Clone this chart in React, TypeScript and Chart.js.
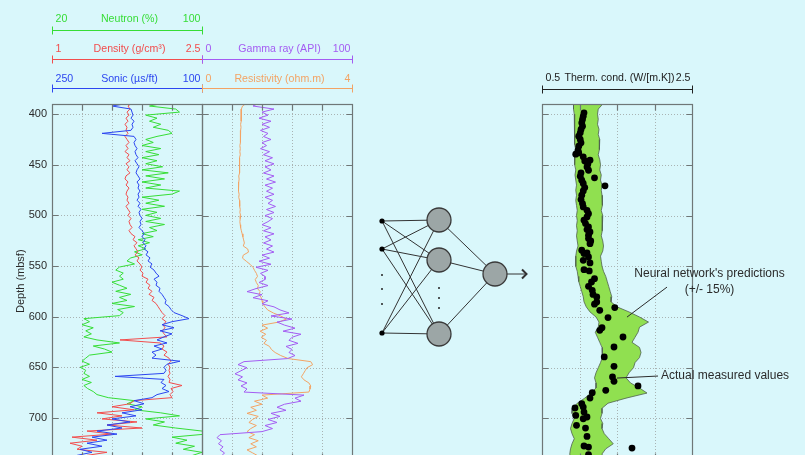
import React, { useEffect, useRef } from 'react';
import { Chart, registerables } from 'chart.js';

Chart.register(...registerables);

// ---------- wireline logs (sampled every 3 m, metres below sea floor) ----------
const LOG_DEPTH = [
  389, 392, 395, 398, 401, 404, 407, 410, 413, 416,
  419, 422, 425, 428, 431, 434, 437, 440, 443, 446,
  449, 452, 455, 458, 461, 464, 467, 470, 473, 476,
  479, 482, 485, 488, 491, 494, 497, 500, 503, 506,
  509, 512, 515, 518, 521, 524, 527, 530, 533, 536,
  539, 542, 545, 548, 551, 554, 557, 560, 563, 566,
  569, 572, 575, 578, 581, 584, 587, 590, 593, 596,
  599, 602, 605, 608, 611, 614, 617, 620, 623, 626,
  629, 632, 635, 638, 641, 644, 647, 650, 653, 656,
  659, 662, 665, 668, 671, 674, 677, 680, 683, 686,
  689, 692, 695, 698, 701, 704, 707, 710, 713, 716,
  719, 722, 725, 728, 731, 734, 737, 740,
];

// neutron porosity (%)
const NEUTRON = [
  80, 72, 86, 88, 70, 76, 72, 78, 74, 82,
  84, 76, 70, 74, 68, 78, 70, 77, 68, 76,
  70, 79, 68, 82, 70, 80, 68, 78, 70, 88,
  84, 68, 77, 70, 80, 68, 76, 70, 78, 70,
  80, 72, 76, 68, 74, 66, 72, 66, 70, 64,
  68, 62, 60, 64, 56, 54, 58, 56, 58, 52,
  56, 60, 54, 62, 56, 60, 52, 64, 55, 58,
  56, 37, 40, 36, 42, 38, 41, 37, 44, 56,
  42, 48, 52, 40, 38, 36, 40, 35, 38, 37,
  40, 36, 41, 37, 39, 42, 44, 50, 64, 60,
  68, 64, 78, 88, 70, 80, 74, 86, 100, 102,
  84, 92, 86, 96, 90, 100, 95, 92,
];

// bulk density (g/cm3)
const DENSITY = [
  1.80, 1.76, 1.78, 1.75, 1.77, 1.74, 1.76, 1.73, 1.75, 1.74,
  1.76, 1.73, 1.75, 1.77, 1.74, 1.76, 1.73, 1.77, 1.75, 1.78,
  1.74, 1.77, 1.75, 1.78, 1.74, 1.73, 1.76, 1.74, 1.77, 1.75,
  1.74, 1.76, 1.75, 1.77, 1.74, 1.76, 1.78, 1.76, 1.79, 1.77,
  1.78, 1.80, 1.77, 1.79, 1.83, 1.81, 1.85, 1.82, 1.84, 1.86,
  1.83, 1.87, 1.85, 1.88, 1.90, 1.88, 1.91, 1.90, 1.96, 1.94,
  1.98, 1.96, 2.00, 1.97, 2.02, 2.00, 2.04, 2.06, 2.08, 2.10,
  2.13, 2.10, 2.14, 2.11, 2.13, 2.10, 2.12, 2.15, 1.68, 2.08,
  2.12, 2.10, 2.15, 2.12, 2.17, 2.19, 2.16, 2.18, 2.17, 2.18,
  2.16, 2.18, 2.17, 2.30, 2.19, 2.21, 2.18, 2.20, 1.82, 1.78,
  1.60, 1.82, 1.45, 1.70, 1.50, 1.85, 1.55, 1.90, 1.35, 1.60,
  1.20, 1.45, 1.18, 1.30, 1.25, 1.55, 1.35, 1.50,
];

// sonic slowness (us/ft)
const SONIC = [
  172, 190, 171, 170, 169, 171, 168, 170, 169, 171,
  200, 168, 166, 168, 167, 165, 167, 166, 164, 167,
  165, 163, 165, 166, 164, 162, 165, 163, 164, 162,
  164, 163, 165, 162, 164, 161, 163, 162, 160, 162,
  161, 163, 160, 158, 160, 157, 159, 156, 158, 154,
  156, 152, 154, 150, 152, 148, 146, 143, 148, 145,
  146, 142, 143, 140, 138, 136, 137, 133, 131, 128,
  120, 113, 130, 140, 128, 142, 130, 138, 145, 135,
  148, 140, 150, 146, 150, 122, 135, 138, 136, 138,
  187, 138, 141, 136, 140, 133, 145, 150, 168, 158,
  172, 160, 180, 166, 190, 172, 195, 180, 205, 185,
  210, 195, 215, 200, 222, 210, 225, 218,
];

// natural gamma ray (API)
const GAMMA = [
  38, 34, 48, 40, 44, 38, 46, 40, 45, 39,
  44, 41, 46, 40, 43, 39, 45, 41, 47, 42,
  48, 42, 46, 41, 48, 43, 49, 42, 47, 43,
  48, 42, 47, 44, 49, 43, 48, 42, 47, 44,
  40, 46, 41, 48, 42, 46, 41, 47, 43, 48,
  40, 45, 38, 46, 36, 44, 39, 42, 42, 38,
  44, 36, 30, 40, 34, 44, 40, 48, 52, 58,
  46, 60, 50, 55, 62, 54, 66, 60, 58, 64,
  56, 60, 58, 62, 57, 28, 24, 30, 26, 22,
  27, 24, 30, 26, 30, 28, 68, 62, 66, 55,
  50, 56, 46, 52, 44, 50, 42, 47, 40, 12,
  10, 13, 11, 14, 12, 15, 13, 16,
];

// resistivity (ohm.m)
const RESISTIVITY = [
  1.20, 1.08, 1.05, 1.04, 1.05, 1.04, 1.05, 1.03, 1.04, 1.03,
  1.02, 1.03, 1.02, 1.03, 1.01, 1.02, 1.01, 1.02, 1.00, 1.01,
  1.00, 1.01, 0.99, 1.00, 0.98, 0.99, 0.98, 0.97, 0.98, 0.97,
  0.99, 0.98, 1.00, 1.01, 1.00, 1.02, 1.01, 1.03, 1.02, 1.01,
  1.02, 1.03, 1.05, 1.07, 1.09, 1.11, 1.13, 1.10, 1.22, 1.24,
  1.10, 1.08, 1.18, 1.28, 1.36, 1.40, 1.45, 1.48, 1.42, 1.45,
  1.50, 1.48, 1.55, 1.52, 1.58, 1.60, 1.62, 1.68, 1.75, 1.90,
  2.10, 2.25, 2.05, 1.60, 1.75, 1.55, 1.70, 1.58, 1.72, 1.65,
  1.80, 1.85, 1.95, 2.10, 2.30, 2.90, 2.95, 2.80, 2.75, 2.70,
  2.65, 2.72, 2.85, 2.90, 2.88, 2.85, 1.60, 1.75, 1.40, 1.60,
  1.30, 1.45, 1.20, 1.50, 1.35, 1.25, 1.45, 1.30, 1.20, 1.40,
  1.25, 1.50, 1.30, 1.45, 1.20, 1.35, 1.50, 1.40,
];

// ---------- thermal conductivity (W/[m.K]) ----------
// predicted envelope, every 5 m
const BAND_DEPTH = [
  390, 395, 400, 405, 410, 415, 420, 425, 430, 435,
  440, 445, 450, 455, 460, 465, 470, 475, 480, 485,
  490, 495, 500, 505, 510, 515, 520, 525, 530, 535,
  540, 545, 550, 555, 560, 565, 570, 575, 580, 585,
  590, 595, 600, 605, 610, 615, 620, 625, 630, 635,
  640, 645, 650, 655, 660, 665, 670, 675, 680, 685,
  690, 695, 700, 705, 710, 715, 720, 725, 730, 735,
  740,
];
const BAND_LOW = [
  0.92, 0.92, 0.93, 0.93, 0.94, 0.93, 0.94, 0.93, 0.94, 0.95,
  0.94, 0.93, 0.94, 0.95, 0.94, 0.95, 0.96, 0.95, 0.96, 0.95,
  0.96, 0.97, 0.96, 0.97, 0.96, 0.97, 0.96, 0.97, 0.98, 0.96,
  0.95, 0.95, 0.95, 0.97, 0.98, 0.99, 1.01, 1.03, 1.05, 1.06,
  1.09, 1.14, 1.22, 1.26, 1.25, 1.21, 1.24, 1.27, 1.30, 1.31,
  1.30, 1.28, 1.25, 1.22, 1.20, 1.22, 1.22, 1.15, 1.07, 0.97,
  0.91, 0.90, 0.93, 0.90, 0.88, 0.90, 0.93, 0.90, 0.88, 0.87,
  0.88,
];
const BAND_HIGH = [
  1.31, 1.25, 1.24, 1.25, 1.24, 1.26, 1.25, 1.27, 1.26, 1.27,
  1.25, 1.27, 1.28, 1.27, 1.29, 1.28, 1.30, 1.29, 1.30, 1.31,
  1.30, 1.29, 1.31, 1.30, 1.31, 1.30, 1.29, 1.31, 1.32, 1.31,
  1.28, 1.29, 1.30, 1.32, 1.35, 1.37, 1.39, 1.41, 1.43, 1.42,
  1.50, 1.66, 1.80, 1.92, 1.80, 1.78, 1.74, 1.70, 1.80, 1.82,
  1.80, 1.74, 1.72, 1.66, 1.62, 1.68, 1.80, 1.90, 1.62, 1.38,
  1.30, 1.30, 1.28, 1.31, 1.30, 1.33, 1.39, 1.45, 1.35, 1.30,
  1.32,
];
// laboratory measurements
const MEAS_DEPTH = [
  398.7, 402.0, 405.3, 408.6, 411.9, 415.1, 418.4, 421.7, 425.0, 428.3,
  431.6, 435.5, 438.2, 439.5, 442.1, 445.4, 446.1, 449.4, 452.0, 455.3,
  457.9, 461.2, 462.8, 465.1, 468.4, 470.7, 472.4, 475.7, 479.9, 484.2,
  488.2, 491.5, 494.8, 498.1, 501.3, 504.6, 507.9, 511.2, 513.8, 516.1,
  519.4, 522.7, 525.0, 527.7, 534.2, 536.9, 537.5, 540.8, 544.1, 546.7,
  553.3, 554.6, 562.2, 565.5, 569.8, 573.7, 577.7, 580.3, 585.1, 587.4,
  590.7, 593.4, 600.6, 610.5, 613.1, 619.7, 629.6, 639.4, 648.6, 659.1,
  663.4, 668.0, 672.3, 674.6, 679.9, 685.5, 688.8, 689.7, 693.7, 697.0,
  698.6, 700.3, 706.8, 709.5, 717.7, 727.2, 728.2, 729.2, 735.8,
];
const MEAS_TC = [
  1.06, 1.05, 1.04, 1.03, 1.04, 1.02, 1.01, 0.99, 1.01, 1.02,
  0.99, 0.98, 0.99, 0.95, 1.05, 1.14, 1.07, 1.11, 1.10, 1.12,
  1.02, 1.01, 1.20, 1.03, 1.05, 1.34, 1.07, 1.05, 1.03, 1.02,
  1.04, 1.05, 1.10, 1.12, 1.10, 1.06, 1.08, 1.12, 1.10, 1.14,
  1.12, 1.12, 1.15, 1.14, 1.03, 1.10, 1.06, 1.12, 1.05, 1.14,
  1.06, 1.13, 1.20, 1.16, 1.12, 1.17, 1.18, 1.23, 1.23, 1.20,
  1.47, 1.27, 1.38, 1.30, 1.27, 1.58, 1.46, 1.33, 1.46, 1.44,
  1.46, 1.78, 1.35, 1.17, 1.14, 1.03, 1.05, 0.94, 1.06, 0.95,
  1.10, 1.05, 0.96, 1.08, 1.10, 1.06, 1.12, 1.70, 1.12,
];

// ---------- axes: [value at left edge, value at right edge] ----------
const NEUTRON_RANGE = [20, 100];
const DENSITY_RANGE = [1, 2.5];
const SONIC_RANGE = [250, 100];
const GAMMA_RANGE = [0, 100];
const RESIST_RANGE = [0, 4];
const TC_RANGE = [0.5, 2.5];
const DEPTH_RANGE = [390, 740];
const DEPTH_TICKS = [400, 450, 500, 550, 600, 650, 700];
const NEUTRON_GRID = [36, 52, 68, 84];
const GAMMA_GRID = [20, 40, 60, 80];
const TC_GRID = [1, 1.5, 2];

// ---------- network sketch (diagram units) ----------
const NN_LAYER_X = [22, 79, 135];
const NN_INPUT_Y = [31, 59, 143];
const NN_HIDDEN_Y = [30, 70, 144];
const NN_OUTPUT_Y = [84];
const NN_INPUT_GAP_Y = [85, 99, 114];
const NN_HIDDEN_GAP_Y = [98, 108, 118];
const NN_ARROW_END_X = 166.5;

// ---------- styling ----------
const FONT = '"Liberation Sans", Arial, Helvetica, sans-serif';
const HEADER_FONT = `10.6px ${FONT}`;
const BG = '#d9f7fb';
const INK = '#2b2b2b';
const FRAME_COLOR = '#6f7777';
const GRID_COLOR = '#a9b3b3';
const C_NEUTRON = '#36dd36';
const C_DENSITY = '#f24d4d';
const C_SONIC = '#2c46f0';
const C_GAMMA = '#a45cf2';
const C_RESIST = '#f3a364';
const C_BAND = '#90e050';
const C_BAND_EDGE = '#4f5f4f';

const rangeScale = (range: number[]) => ({
  type: 'linear',
  display: false,
  min: Math.min(range[0], range[1]),
  max: Math.max(range[0], range[1]),
  reverse: range[0] > range[1],
});

const depthScale = (visible: boolean) => {
  const scale: any = {
    type: 'linear',
    position: 'left',
    display: visible,
    min: DEPTH_RANGE[0],
    max: DEPTH_RANGE[1],
    reverse: true,
    afterBuildTicks: (s: any) => {
      s.ticks = DEPTH_TICKS.map((value) => ({ value }));
    },
    grid: { display: false, drawTicks: false },
    border: { display: false },
    ticks: { color: INK, font: { family: FONT, size: 11 }, padding: 5, autoSkip: false, maxRotation: 0 },
    title: {
      display: true,
      text: 'Depth (mbsf)',
      color: INK,
      font: { family: FONT, size: 11 },
      padding: { top: 14, bottom: 0 },
    },
  };
  if (visible) {
    scale.afterFit = (s: any) => {
      s.width = 52;
    };
  }
  return scale;
};

const baseOptions = (padding: any, scales: any) => ({
  responsive: false,
  animation: false,
  events: [],
  indexAxis: 'y',
  layout: { padding, autoPadding: false },
  plugins: { legend: { display: false }, tooltip: { enabled: false } },
  scales,
});

const logSeries = (values: number[], xAxisID: string, color: string) => ({
  data: LOG_DEPTH.map((d, i) => ({ x: values[i], y: d })),
  xAxisID,
  yAxisID: 'y',
  borderColor: color,
  borderWidth: 1,
  pointRadius: 0,
  fill: false,
  tension: 0,
});

// dotted grid under the curves, frame with inward ticks on top
function panelGrid(xScaleId: string, xGrid: number[]) {
  return {
    id: 'panelGrid',
    beforeDatasetsDraw(chart: any) {
      const { ctx, chartArea: a } = chart;
      const xs = chart.scales[xScaleId];
      const ys = chart.scales.y;
      ctx.save();
      ctx.strokeStyle = GRID_COLOR;
      ctx.lineWidth = 1;
      ctx.setLineDash([1, 2]);
      ctx.beginPath();
      xGrid.forEach((v) => {
        const px = Math.round(xs.getPixelForValue(v)) + 0.5;
        ctx.moveTo(px, a.top);
        ctx.lineTo(px, a.bottom);
      });
      DEPTH_TICKS.forEach((v) => {
        const py = Math.round(ys.getPixelForValue(v)) + 0.5;
        ctx.moveTo(a.left, py);
        ctx.lineTo(a.right, py);
      });
      ctx.stroke();
      ctx.restore();
    },
    afterDatasetsDraw(chart: any) {
      const { ctx, chartArea: a } = chart;
      const xs = chart.scales[xScaleId];
      const ys = chart.scales.y;
      const L = Math.round(a.left) + 0.5;
      const R = Math.round(a.right) + 0.5;
      const T = Math.round(a.top) + 0.5;
      const B = Math.round(a.bottom) + 0.5;
      const tick = 6;
      ctx.save();
      ctx.strokeStyle = FRAME_COLOR;
      ctx.lineWidth = 1.2;
      ctx.strokeRect(L, T, R - L, B - T);
      ctx.beginPath();
      xGrid.forEach((v) => {
        const px = Math.round(xs.getPixelForValue(v)) + 0.5;
        ctx.moveTo(px, T);
        ctx.lineTo(px, T + tick);
        ctx.moveTo(px, B);
        ctx.lineTo(px, B - tick);
      });
      DEPTH_TICKS.forEach((v) => {
        const py = Math.round(ys.getPixelForValue(v)) + 0.5;
        ctx.moveTo(L, py);
        ctx.lineTo(L + tick, py);
        ctx.moveTo(R, py);
        ctx.lineTo(R - tick, py);
      });
      ctx.stroke();
      ctx.restore();
    },
  };
}

type HeaderRow = { scale: string; range: number[]; title: string; color: string; textY: number; lineY: number };

// labelled scale bars above a track
function scaleHeader(rows: HeaderRow[]) {
  return {
    id: 'scaleHeader',
    afterDraw(chart: any) {
      const { ctx } = chart;
      ctx.save();
      ctx.font = HEADER_FONT;
      ctx.textBaseline = 'middle';
      ctx.lineWidth = 1;
      rows.forEach((row) => {
        const s = chart.scales[row.scale];
        const p0 = s.getPixelForValue(row.range[0]);
        const p1 = s.getPixelForValue(row.range[1]);
        const left = Math.round(Math.min(p0, p1)) + 0.5;
        const right = Math.round(Math.max(p0, p1)) + 0.5;
        ctx.fillStyle = row.color;
        ctx.strokeStyle = row.color;
        ctx.textAlign = 'left';
        ctx.fillText(String(row.range[0]), left + 3, row.textY);
        ctx.textAlign = 'right';
        ctx.fillText(String(row.range[1]), right - 2, row.textY);
        ctx.textAlign = 'center';
        ctx.fillText(row.title, (left + right) / 2 + 2, row.textY);
        const y = Math.round(row.lineY) + 0.5;
        ctx.beginPath();
        ctx.moveTo(left, y);
        ctx.lineTo(right, y);
        ctx.moveTo(left, y - 4);
        ctx.lineTo(left, y + 4);
        ctx.moveTo(right, y - 4);
        ctx.lineTo(right, y + 4);
        ctx.stroke();
      });
      ctx.restore();
    },
  };
}

// callouts placed in (conductivity, depth) coordinates
const NOTES = [
  {
    lines: ["Neural network's predictions", '(+/- 15%)'],
    at: [2.733, 557.6],
    align: 'center',
    leader: [[2.167, 570.5], [1.633, 600.1]],
  },
  {
    lines: ['Actual measured values'],
    at: [2.087, 658.2],
    align: 'left',
    leader: [[2.047, 658.2], [1.5, 660.2]],
  },
];

const callouts = {
  id: 'callouts',
  afterDraw(chart: any) {
    const { ctx } = chart;
    const xs = chart.scales.xT;
    const ys = chart.scales.y;
    ctx.save();
    ctx.font = `12px ${FONT}`;
    ctx.fillStyle = INK;
    ctx.strokeStyle = INK;
    ctx.lineWidth = 1;
    ctx.textBaseline = 'middle';
    NOTES.forEach((n) => {
      const x = xs.getPixelForValue(n.at[0]);
      const y = ys.getPixelForValue(n.at[1]);
      ctx.textAlign = n.align;
      n.lines.forEach((t, i) => ctx.fillText(t, x, y + i * 15.5));
      ctx.beginPath();
      ctx.moveTo(xs.getPixelForValue(n.leader[0][0]), ys.getPixelForValue(n.leader[0][1]));
      ctx.lineTo(xs.getPixelForValue(n.leader[1][0]), ys.getPixelForValue(n.leader[1][1]));
      ctx.stroke();
    });
    ctx.restore();
  },
};

function porosityTrack(): any {
  return {
    type: 'line',
    data: {
      datasets: [
        logSeries(SONIC, 'xS', C_SONIC),
        logSeries(DENSITY, 'xD', C_DENSITY),
        logSeries(NEUTRON, 'xN', C_NEUTRON),
      ],
    },
    options: baseOptions(
      { left: 0, right: 3, top: 104, bottom: 11 },
      {
        xN: rangeScale(NEUTRON_RANGE),
        xD: rangeScale(DENSITY_RANGE),
        xS: rangeScale(SONIC_RANGE),
        y: depthScale(true),
      },
    ),
    plugins: [
      panelGrid('xN', NEUTRON_GRID),
      scaleHeader([
        { scale: 'xN', range: NEUTRON_RANGE, title: 'Neutron (%)', color: C_NEUTRON, textY: 19.5, lineY: 30 },
        { scale: 'xD', range: DENSITY_RANGE, title: 'Density (g/cm³)', color: C_DENSITY, textY: 49.5, lineY: 59 },
        { scale: 'xS', range: SONIC_RANGE, title: 'Sonic (µs/ft)', color: C_SONIC, textY: 79, lineY: 88 },
      ]),
    ],
  };
}

function lithologyTrack(): any {
  return {
    type: 'line',
    data: {
      datasets: [logSeries(GAMMA, 'xG', C_GAMMA), logSeries(RESISTIVITY, 'xR', C_RESIST)],
    },
    options: baseOptions(
      { left: 2, right: 8, top: 104, bottom: 11 },
      { xG: rangeScale(GAMMA_RANGE), xR: rangeScale(RESIST_RANGE), y: depthScale(false) },
    ),
    plugins: [
      panelGrid('xG', GAMMA_GRID),
      scaleHeader([
        { scale: 'xG', range: GAMMA_RANGE, title: 'Gamma ray (API)', color: C_GAMMA, textY: 49.5, lineY: 59 },
        { scale: 'xR', range: RESIST_RANGE, title: 'Resistivity (ohm.m)', color: C_RESIST, textY: 79, lineY: 88 },
      ]),
    ],
  };
}

function conductivityTrack(): any {
  const edge = (values: number[]) => BAND_DEPTH.map((d, i) => ({ x: values[i], y: d }));
  return {
    type: 'line',
    data: {
      datasets: [
        {
          data: edge(BAND_LOW),
          xAxisID: 'xT',
          yAxisID: 'y',
          borderColor: C_BAND_EDGE,
          borderWidth: 0.8,
          pointRadius: 0,
          fill: false,
          order: 2,
        },
        {
          data: edge(BAND_HIGH),
          xAxisID: 'xT',
          yAxisID: 'y',
          borderColor: C_BAND_EDGE,
          borderWidth: 0.8,
          backgroundColor: C_BAND,
          pointRadius: 0,
          fill: '-1',
          order: 2,
        },
        {
          data: MEAS_DEPTH.map((d, i) => ({ x: MEAS_TC[i], y: d })),
          xAxisID: 'xT',
          yAxisID: 'y',
          showLine: false,
          pointRadius: 3.4,
          pointBorderWidth: 0,
          pointBackgroundColor: '#000000',
          borderColor: '#000000',
          order: 1,
        },
      ],
    },
    options: baseOptions(
      { left: 12, right: 113, top: 104, bottom: 11 },
      { xT: rangeScale(TC_RANGE), y: depthScale(false) },
    ),
    plugins: [
      panelGrid('xT', TC_GRID),
      scaleHeader([
        { scale: 'xT', range: TC_RANGE, title: 'Therm. cond. (W/[m.K])', color: '#222222', textY: 78.5, lineY: 89 },
      ]),
      callouts,
    ],
  };
}

function networkSketch(): any {
  const [xIn, xHid, xOut] = NN_LAYER_X;
  const yOut = NN_OUTPUT_Y[0];
  const links: any[] = [];
  NN_INPUT_Y.forEach((yi) =>
    NN_HIDDEN_Y.forEach((yh) => links.push([{ x: xIn, y: yi }, { x: xHid, y: yh }])),
  );
  NN_HIDDEN_Y.forEach((yh) => links.push([{ x: xHid, y: yh }, { x: xOut, y: yOut }]));
  links.push([{ x: xOut, y: yOut }, { x: NN_ARROW_END_X, y: yOut }]);
  const lineSet = (data: any[], width: number) => ({
    data,
    showLine: true,
    borderColor: '#333333',
    borderWidth: width,
    pointRadius: 0,
    order: 3,
  });
  const dotSet = (data: any[], r: number, fillColor: string, stroke: number) => ({
    data,
    pointRadius: r,
    pointBackgroundColor: fillColor,
    pointBorderColor: '#3a3a3a',
    pointBorderWidth: stroke,
    order: 1,
  });
  return {
    type: 'scatter',
    data: {
      datasets: [
        ...links.map((l) => lineSet(l, 1)),
        lineSet(
          [
            { x: NN_ARROW_END_X - 4.5, y: yOut - 4.5 },
            { x: NN_ARROW_END_X, y: yOut },
            { x: NN_ARROW_END_X - 4.5, y: yOut + 4.5 },
          ],
          2,
        ),
        dotSet(NN_HIDDEN_Y.map((y) => ({ x: xHid, y })), 12, '#9ca6a6', 1.3),
        dotSet([{ x: xOut, y: yOut }], 12, '#9ca6a6', 1.3),
        dotSet(NN_INPUT_Y.map((y) => ({ x: xIn, y })), 2.6, '#000000', 0),
        dotSet(NN_INPUT_GAP_Y.map((y) => ({ x: xIn, y })), 1, '#222222', 0),
        dotSet(NN_HIDDEN_GAP_Y.map((y) => ({ x: xHid, y })), 1, '#222222', 0),
      ],
    },
    options: {
      responsive: false,
      animation: false,
      events: [],
      layout: { padding: 0, autoPadding: false },
      plugins: { legend: { display: false }, tooltip: { enabled: false } },
      scales: {
        x: { type: 'linear', display: false, min: 0, max: 180 },
        y: { type: 'linear', display: false, min: 0, max: 170, reverse: true },
      },
    },
  };
}

export default function App() {
  const porosityRef = useRef<HTMLCanvasElement>(null);
  const lithologyRef = useRef<HTMLCanvasElement>(null);
  const networkRef = useRef<HTMLCanvasElement>(null);
  const conductivityRef = useRef<HTMLCanvasElement>(null);

  useEffect(() => {
    const charts = [
      new Chart(porosityRef.current as HTMLCanvasElement, porosityTrack()),
      new Chart(lithologyRef.current as HTMLCanvasElement, lithologyTrack()),
      new Chart(networkRef.current as HTMLCanvasElement, networkSketch()),
      new Chart(conductivityRef.current as HTMLCanvasElement, conductivityTrack()),
    ];
    return () => charts.forEach((c) => c.destroy());
  }, []);

  const place = (left: number, top: number): React.CSSProperties => ({ position: 'absolute', left, top });

  return (
    <div
      style={{
        position: 'fixed',
        left: 0,
        top: 0,
        width: 805,
        height: 455,
        overflow: 'hidden',
        background: BG,
      }}
    >
      <canvas ref={porosityRef} width={205} height={470} style={place(0, 0)} />
      <canvas ref={lithologyRef} width={160} height={470} style={place(200, 0)} />
      <canvas ref={networkRef} width={180} height={170} style={place(360, 190)} />
      <canvas ref={conductivityRef} width={275} height={470} style={place(530, 0)} />
    </div>
  );
}
